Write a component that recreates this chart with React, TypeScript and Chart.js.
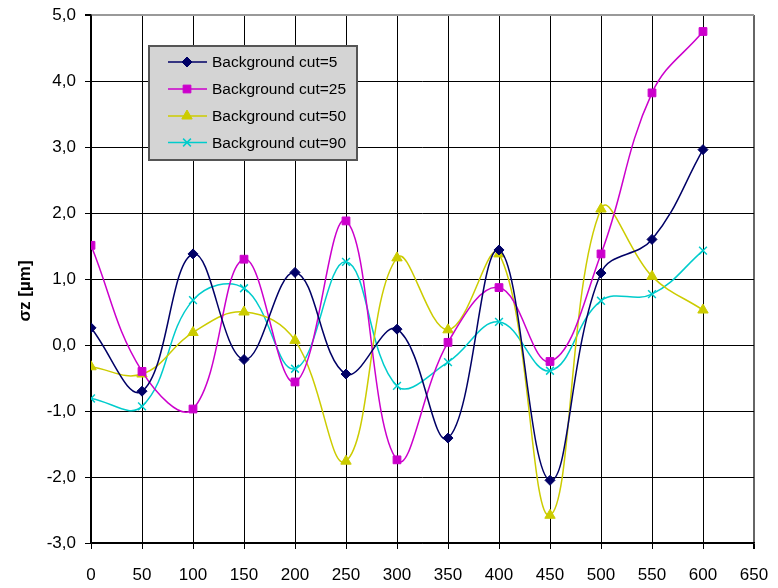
import React, { useEffect, useRef } from 'react';
import { Chart, registerables } from 'chart.js';
import { drawPoint } from 'chart.js/helpers';

Chart.register(...registerables);

const xValues = [0, 50, 100, 150, 200, 250, 300, 350, 400, 450, 500, 550, 600];
const cut5 = [0.26, -0.7, 1.38, -0.22, 1.1, -0.44, 0.24, -1.41, 1.44, -2.05, 1.09, 1.6, 2.96];
const cut25 = [1.51, -0.4, -0.97, 1.3, -0.56, 1.88, -1.74, 0.04, 0.87, -0.25, 1.38, 3.82, 4.75];
const cut50 = [-0.33, -0.44, 0.19, 0.5, 0.07, -1.76, 1.32, 0.23, 1.38, -2.58, 2.06, 1.04, 0.53];
const cut90 = [-0.81, -0.93, 0.68, 0.86, -0.36, 1.26, -0.62, -0.26, 0.35, -0.39, 0.67, 0.77, 1.43];

const seriesLabels = ['Background cut=5', 'Background cut=25', 'Background cut=50', 'Background cut=90'];
const seriesData = [cut5, cut25, cut50, cut90];
const seriesColors = ['#000066', '#CC00CC', '#CCCC00', '#00CCCC'];
const pointStyles = ['rectRot', 'rect', 'triangle', 'crossRot'];
const pointRadii = [5, 5.5, 6, 5.5];

const xMin = 0, xMax = 650, xStep = 50;
const yMin = -3, yMax = 5, yStep = 1;
const yTitle = 'σz [µm]';

const FONT = '"Liberation Sans", Arial, sans-serif';

const boxLegend = {
  id: 'boxLegend',
  afterDraw(chart: any) {
    const ctx = chart.ctx as CanvasRenderingContext2D;
    const ca = chart.chartArea;
    ctx.save();
    const x0 = ca.left + 58, y0 = ca.top + 31, w = 208, h = 114;
    ctx.fillStyle = '#d4d4d4';
    ctx.fillRect(x0, y0, w, h);
    ctx.strokeStyle = '#555555';
    ctx.lineWidth = 2;
    ctx.strokeRect(x0, y0, w, h);
    const rows = [16, 43, 70, 96.5];
    chart.data.datasets.forEach((ds: any, i: number) => {
      const cy = y0 + rows[i];
      ctx.strokeStyle = ds.borderColor;
      ctx.lineWidth = 1.5;
      ctx.beginPath();
      ctx.moveTo(x0 + 19, cy);
      ctx.lineTo(x0 + 58, cy);
      ctx.stroke();
      ctx.fillStyle = ds.pointBackgroundColor;
      ctx.strokeStyle = ds.pointBorderColor;
      ctx.lineWidth = ds.pointBorderWidth;
      drawPoint(ctx, { pointStyle: ds.pointStyle, radius: ds.pointRadius, rotation: 0, borderWidth: ds.pointBorderWidth } as any, x0 + 38, cy);
      ctx.fillStyle = '#000';
      ctx.font = `15.5px ${FONT}`;
      ctx.textAlign = 'left';
      ctx.textBaseline = 'middle';
      ctx.fillText(ds.label, x0 + 63, cy + 1);
    });
    ctx.translate(25.5, (ca.top + ca.bottom) / 2 + 12);
    ctx.rotate(-Math.PI / 2);
    ctx.font = `bold 17px ${FONT}`;
    ctx.fillStyle = '#000';
    ctx.textAlign = 'center';
    ctx.textBaseline = 'middle';
    ctx.fillText(yTitle, 0, 0);
    ctx.restore();
  },
};

export default function App() {
  const ref = useRef<HTMLCanvasElement | null>(null);
  useEffect(() => {
    if (!ref.current) return;
    const chart = new Chart(ref.current, {
      type: 'line',
      data: {
        datasets: seriesLabels.map((label, i) => ({
          label,
          data: xValues.map((x, j) => ({ x, y: seriesData[i][j] })),
          borderColor: seriesColors[i],
          backgroundColor: seriesColors[i],
          pointBackgroundColor: seriesColors[i],
          pointBorderColor: seriesColors[i],
          pointBorderWidth: i === 3 ? 1.5 : 1,
          pointStyle: pointStyles[i] as any,
          pointRadius: pointRadii[i],
          borderWidth: 1.5,
          tension: 0.4,
          fill: false,
        })),
      },
      options: {
        animation: false,
        responsive: false,
        events: [],
        layout: { padding: { top: 15, right: 24, bottom: 0, left: 0 } },
        plugins: { legend: { display: false }, tooltip: { enabled: false } },
        scales: {
          x: {
            type: 'linear',
            min: xMin,
            max: xMax,
            afterFit: (s: any) => { s.height = 45; s.paddingLeft = 0; s.paddingRight = 0; },
            ticks: { stepSize: xStep, color: '#000', font: { family: FONT, size: 17 }, padding: 16, maxRotation: 0 },
            grid: {
              color: (c: any) => (c.tick && c.tick.value === xMax ? '#666' : '#000'),
              lineWidth: (c: any) => (c.tick && c.tick.value === xMax ? 2 : 1),
              tickColor: '#000',
              tickLength: 6,
            },
            border: { display: true, color: '#000', width: 1.5 },
          },
          y: {
            type: 'linear',
            min: yMin,
            max: yMax,
            afterFit: (s: any) => { s.width = 91; s.paddingTop = 0; s.paddingBottom = 0; },
            ticks: {
              stepSize: yStep,
              color: '#000',
              font: { family: FONT, size: 17 },
              padding: 9,
              callback: (v: any) => Number(v).toFixed(1).replace('.', ','),
            },
            grid: {
              color: (c: any) => (c.tick && c.tick.value === yMax ? '#999' : '#000'),
              lineWidth: (c: any) => (c.tick && c.tick.value === yMax ? 2 : 1),
              tickColor: '#000',
              tickLength: 6,
            },
            border: { display: true, color: '#000', width: 1.5 },
          },
        },
      },
      plugins: [boxLegend],
    });
    return () => chart.destroy();
  }, []);
  return (
    <div style={{ position: 'absolute', left: 0, top: 0, width: 778, height: 588, background: '#fff' }}>
      <canvas ref={ref} width={778} height={588} />
    </div>
  );
}
